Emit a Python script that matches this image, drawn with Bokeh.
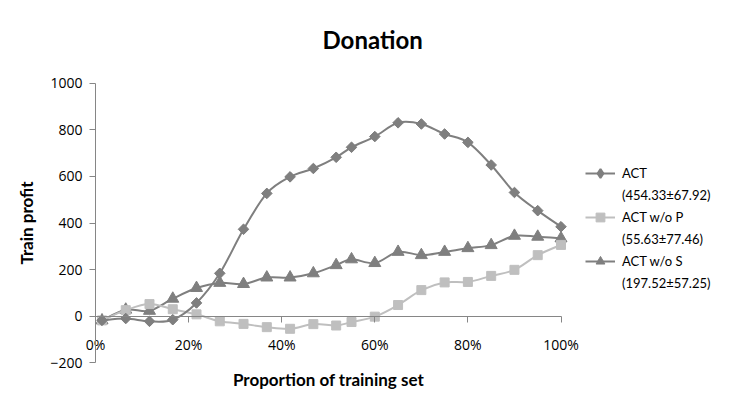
import math
from bokeh.plotting import figure
from bokeh.models import (Range1d, Legend, LegendItem, FixedTicker, PrintfTickFormatter)
from bokeh.embed import file_html
from bokeh.resources import INLINE

# ---- data ----
proportion = [1.4, 6.5, 11.6, 16.6, 21.7, 26.7, 31.8, 36.8, 41.8, 46.8, 51.7,
              55.0, 60.0, 65.0, 70.0, 75.0, 80.0, 85.0, 90.0, 95.0, 100.0]
act = [-18, -10, -22, -15, 57, 184, 373, 527, 598, 634, 682,
       725, 771, 830, 825, 782, 746, 649, 531, 453, 384]
act_wo_p = [-18, 26, 52, 30, 8, -22, -33, -47, -54, -34, -40,
            -25, -2, 48, 112, 145, 147, 173, 199, 262, 306]
act_wo_s = [-18, 28, 23, 75, 121, 143, 138, 166, 166, 184, 219,
            244, 228, 276, 262, 276, 292, 305, 345, 341, 334]
series_names = ["ACT", "ACT w/o P", "ACT w/o S"]
series_stats = ["(454.33\u00b167.92)", "(55.63\u00b177.46)", "(197.52\u00b157.25)"]
x_ticks = [0, 20, 40, 60, 80, 100]
y_ticks = [-200, 0, 200, 400, 600, 800, 1000]
title_text = "Donation"
x_label = "Proportion of training set"
y_label = "Train profit"

DARK = "#7f7f7f"
LIGHT = "#bfbfbf"
AXIS = "#868686"
TICK_FONT = "Open Sans"
TEXT_FONT = "Lato"

# ---- layout (pixels on the canvas) ----
W, H = 714, 389
FRAME_L, FRAME_R, FRAME_T, FRAME_B = 0, 714, 60, 389
AX_X0, AX_X100 = 95.0, 560.5        # where 0% and 100% sit
AX_Y1000, AX_YM200 = 82.7, 362.3    # where 1000 and -200 sit
LEG_X, LEG_TOP = 585, 162.3         # legend box position
ppx = (AX_X100 - AX_X0) / 100.0
ppy = (AX_YM200 - AX_Y1000) / 1200.0
x_start = 0 - (AX_X0 - FRAME_L) / ppx
x_end = 100 + (FRAME_R - AX_X100) / ppx
y_end = 1000 + (AX_Y1000 - FRAME_T) / ppy
y_start = -200 - (FRAME_B - AX_YM200) / ppy

p = figure(width=W, height=H, x_range=Range1d(x_start, x_end), y_range=Range1d(y_start, y_end),
           output_backend="svg", toolbar_location=None,
           min_border_left=FRAME_L, min_border_right=W - FRAME_R,
           min_border_top=FRAME_T, min_border_bottom=H - FRAME_B,
           outline_line_color=None, background_fill_color="white", border_fill_color="white")
p.grid.visible = False

# title
p.title.text = title_text
p.title.text_font = TEXT_FONT
p.title.text_font_style = "bold"
p.title.text_font_size = "24px"
p.title.text_color = "black"
p.title.align = "left"
p.title.offset = 322
p.title.standoff = 13

# y axis at x = 0
ya = p.yaxis[0]
ya.fixed_location = 0
ya.bounds = (-200, 1000)
ya.ticker = FixedTicker(ticks=y_ticks)
ya.axis_line_color = AXIS
ya.major_tick_line_color = AXIS
ya.minor_tick_line_color = None
ya.major_tick_out = 6
ya.major_tick_in = 0
ya.major_label_standoff = 7
ya.major_label_text_font = TICK_FONT
ya.major_label_text_font_size = "14px"
ya.major_label_text_color = "black"
ya.axis_label = y_label
ya.axis_label_text_font = TEXT_FONT
ya.axis_label_text_font_style = "bold"
ya.axis_label_text_font_size = "17px"
ya.axis_label_text_color = "black"
ya.axis_label_standoff = 10

# x axis at y = 0
xa = p.xaxis[0]
xa.fixed_location = 0
xa.bounds = (0, 100)
xa.ticker = FixedTicker(ticks=x_ticks)
xa.formatter = PrintfTickFormatter(format="%d%%")
xa.axis_line_color = AXIS
xa.major_tick_line_color = AXIS
xa.minor_tick_line_color = None
xa.major_tick_out = 6
xa.major_tick_in = 0
xa.major_label_standoff = 13
xa.major_label_text_font = TICK_FONT
xa.major_label_text_font_size = "14px"
xa.major_label_text_color = "black"
xa.axis_label = x_label
xa.axis_label_text_font = TEXT_FONT
xa.axis_label_text_font_style = "bold"
xa.axis_label_text_font_size = "17px"
xa.axis_label_text_color = "black"
xa.axis_label_standoff = 11


def smooth_segments(xs, ys):
    n = len(xs)
    x0, y0, x1, y1, cx0, cy0, cx1, cy1 = [], [], [], [], [], [], [], []
    for i in range(n - 1):
        im1 = max(i - 1, 0)
        ip2 = min(i + 2, n - 1)
        x0.append(xs[i]); y0.append(ys[i])
        x1.append(xs[i + 1]); y1.append(ys[i + 1])
        cx0.append(xs[i] + (xs[i + 1] - xs[im1]) / 6.0)
        cy0.append(ys[i] + (ys[i + 1] - ys[im1]) / 6.0)
        cx1.append(xs[i + 1] - (xs[ip2] - xs[i]) / 6.0)
        cy1.append(ys[i + 1] - (ys[ip2] - ys[i]) / 6.0)
    return dict(x0=x0, y0=y0, x1=x1, y1=y1, cx0=cx0, cy0=cy0, cx1=cx1, cy1=cy1)


def curve(ys, color):
    return p.bezier(line_color=color, line_width=2, **smooth_segments(proportion, ys))


b_s = curve(act_wo_s, DARK)
s_s = p.scatter(proportion, act_wo_s, marker="triangle", size=12, fill_color=DARK, line_color=DARK)
b_p = curve(act_wo_p, LIGHT)
s_p = p.scatter(proportion, act_wo_p, marker="square", size=9, fill_color=LIGHT, line_color=LIGHT)
b_a = curve(act, DARK)
# diamond marker (used by the legend), covered by the rotated-square markers drawn on top
d_a = p.scatter(proportion, act, marker="diamond", size=8, fill_color=DARK, line_color=DARK,
                line_width=2)
s_a = p.scatter(proportion, act, marker="square", size=7.5, angle=math.pi / 4,
                fill_color=DARK, line_color=DARK)

blank = p.scatter([], [], fill_alpha=0, line_alpha=0)

items = []
for name, stat, rs in zip(series_names, series_stats,
                          [[b_a, d_a], [b_p, s_p], [b_s, s_s]]):
    items.append(LegendItem(label=name, renderers=rs))
    items.append(LegendItem(label=stat, renderers=[blank]))

ROW_H, ROW_GAP = 22, 0
leg_h = len(items) * ROW_H + (len(items) - 1) * ROW_GAP
legend = Legend(items=items, location=(LEG_X - FRAME_L, FRAME_B - (LEG_TOP + leg_h)),
                padding=0, margin=0, spacing=ROW_GAP,
                glyph_width=30, glyph_height=ROW_H, label_height=ROW_H, label_standoff=7,
                border_line_color=None, background_fill_alpha=0,
                label_text_font=TEXT_FONT, label_text_font_size="13px",
                label_text_color="black")
p.add_layout(legend)

open("out.html", "w").write(file_html(p, INLINE))
